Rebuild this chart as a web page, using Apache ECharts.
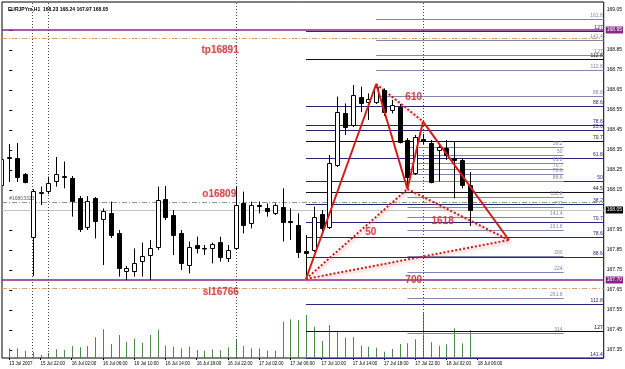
<!DOCTYPE html>
<html><head><meta charset="utf-8">
<script src="https://cdn.jsdelivr.net/npm/echarts@6/dist/echarts.min.js"></script>
<style>html,body{margin:0;padding:0;background:#fff}#c{width:625px;height:369px}</style>
</head><body><div id="c"></div>
<script>
const titleText = 'EURJPYm,H1  168.23 168.24 167.97 168.05';
// bar index of first row in ohlc (partially visible bar at the left edge)
const firstBarIndex = -1;
// [open, high, low, close]
const ohlc = [
[168.175,168.325,168.150,168.305],
[168.310,168.380,168.190,168.315],
[168.310,168.385,168.190,168.215],
[168.230,168.235,168.183,168.190],
[167.917,168.155,167.720,168.147],
[168.137,168.167,168.075,168.140],
[168.147,168.217,168.130,168.183],
[168.195,168.315,168.167,168.230],
[168.215,168.292,168.158,168.218],
[168.208,168.220,168.017,168.097],
[168.108,168.120,167.940,167.953],
[167.963,168.120,167.950,168.097],
[168.108,168.115,167.908,167.995],
[168.003,168.058,167.775,168.047],
[168.037,168.092,167.910,167.925],
[167.937,167.950,167.717,167.758],
[167.747,167.770,167.700,167.758],
[167.747,167.858,167.717,167.787],
[167.797,167.887,167.717,167.820],
[167.825,167.900,167.700,167.858],
[167.867,168.167,167.850,168.100],
[168.103,168.170,168.000,168.017],
[168.025,168.050,167.825,167.925],
[167.937,167.950,167.750,167.787],
[167.775,167.892,167.733,167.867],
[167.875,167.917,167.833,167.858],
[167.860,167.875,167.825,167.858],
[167.858,167.887,167.783,167.880],
[167.892,167.917,167.792,167.817],
[167.808,167.875,167.790,167.850],
[167.858,168.167,167.850,168.075],
[168.083,168.142,167.933,167.975],
[167.983,168.092,167.958,168.075],
[168.075,168.092,168.033,168.072],
[168.058,168.083,168.017,168.047],
[168.037,168.083,168.025,168.075],
[168.067,168.158,167.892,167.992],
[167.995,168.058,167.900,167.990],
[167.975,168.033,167.810,167.842],
[167.847,167.925,167.710,167.837],
[167.850,168.067,167.840,168.017],
[168.028,168.050,167.940,167.958],
[167.967,168.325,167.955,168.283],
[168.275,168.617,168.265,168.542],
[168.533,168.583,168.425,168.467],
[168.475,168.675,168.465,168.625],
[168.613,168.667,168.540,168.583],
[168.592,168.633,168.500,168.603],
[168.592,168.680,168.580,168.667],
[168.650,168.658,168.520,168.542],
[168.550,168.600,168.533,168.575],
[168.567,168.580,168.383,168.392],
[168.400,168.410,168.155,168.217],
[168.233,168.425,168.225,168.417],
[168.405,168.430,168.380,168.395],
[168.383,168.400,168.183,168.192],
[168.350,168.375,168.192,168.367],
[168.358,168.400,168.300,168.325],
[168.310,168.395,168.108,168.300],
[168.300,168.308,168.158,168.175],
[168.175,168.240,167.970,168.050]
];
// tick volume, bars 0..59
const volumes = [97,97,73,60,30,50,87,80,120,107,120,207,287,140,230,163,193,153,230,280,
123,113,97,113,80,73,87,80,107,180,120,97,97,73,73,363,387,380,430,313,
170,330,273,203,207,123,113,103,63,90,140,147,187,460,157,123,137,297,147,280];

const dateTickIdx = [0,4,8,12,16,20,24,28,32,36,40,44,48,52,56,60];
const dateTickLabels = ['13 Jul 2007','15 Jul 22:00','16 Jul 02:00','16 Jul 06:00','16 Jul 10:00','16 Jul 14:00',
'16 Jul 18:00','16 Jul 22:00','17 Jul 02:00','17 Jul 06:00','17 Jul 10:00','17 Jul 14:00','17 Jul 18:00',
'17 Jul 22:00','18 Jul 02:00','18 Jul 06:00'];
const priceTicks = [169.05,168.95,168.85,168.75,168.65,168.55,168.45,168.35,168.25,168.15,168.05,167.95,167.85,167.75,167.65,167.55,167.45,167.35];

// harmonic pattern points X A B C D
const patternIdx = [38,47,51,53,64];
const patternPrice = [167.705,168.680,168.155,168.492,167.900];

// horizontal levels
const purpleLevels = [168.95,167.70];
const purpleLabels = ['168.95','167.70'];
const tpPrice = 168.91, slPrice = 167.66, openPrice = 168.09, bidPrice = 168.05;
const bidLabel = '168.05';
const separatorIdx = [3,5,29.1,53];

// fibonacci lines starting at X, to the right edge
const fibXLevels = ['127','112.8','88.6','78.6','23.6','70.7','61.8','44.5','50','38.2','70.7','78.6','88.6','112.8','127','141.4'];
const fibXPrices = [168.943,168.805,168.569,168.472,168.45,168.395,168.308,168.14,168.193,168.078,167.991,167.914,167.816,167.58,167.442,167.31];
// fibonacci lines starting at A
const fibALevels = ['88.6','112.8','127','141.4','161.8'];
const fibAPrices = [168.620,168.747,168.822,168.897,169.004];
// fibonacci expansion starting at B, ending mid-chart
const fibBEnd = 71;
const fibBLevels = ['38.2','50','61.8','70.7','78.6','88.6','112.8','127','141.4','161.8','200','224','261.8','314'];
const fibBPrices = [168.363,168.323,168.284,168.254,168.227,168.193,168.112,168.064,168.016,167.947,167.818,167.738,167.611,167.435];

// text annotations [barIndex, price, text]
const redNotes = [[27.0,168.85,'tp16891'],[26.9,168.13,'o16809'],[27.1,167.64,'sl16766'],
[51.8,168.615,'610'],[46.3,167.94,'50'],[55.5,167.995,'1618'],[51.8,167.70,'700']];
const orderNote = [[1.6,168.105,'#16803323']];

const X_MIN = -0.9315, X_MAX = 76.14, Y_MIN = 167.31, Y_MAX = 169.09;

const candleData = ohlc.map((r,k)=>[firstBarIndex+k, r[0], r[1], r[2], r[3]]);
const volData = volumes.map((v,k)=>[k, v]);

const chart = echarts.init(document.getElementById('c'), null, {renderer:'canvas'});

function hLine(x0,x1,p,color,label,lw){
  return [{coord:[x0,p], lineStyle:{color:color,width:lw||1,type:'solid'},
           label:{show:!!label,formatter:label||'',position:'insideEndTop',fontSize:5,color:color,distance:1,fontFamily:'Arial'}},
          {coord:[x1,p]}];
}
const fibLines = [];
fibXPrices.forEach((p,k)=>{
  const black = [1,5,7,14].includes(k);
  fibLines.push(hLine(patternIdx[0],X_MAX,p,black?'#111':'#26267a',fibXLevels[k]));
});
fibAPrices.forEach((p,k)=>fibLines.push(hLine(patternIdx[1],X_MAX,p,'#8484ad',fibALevels[k])));
fibBPrices.forEach((p,k)=>fibLines.push(hLine(patternIdx[2],fibBEnd,p,'#8484ad',fibBLevels[k])));

const pt = k=>[patternIdx[k],patternPrice[k]];
const dotted = [[0,2],[2,4],[0,4],[1,3]].map(([a,b])=>[{coord:pt(a)},{coord:pt(b)}]);

const option = {
  animation:false,
  backgroundColor:'#fff',
  title:{text:titleText,left:3,top:2,textStyle:{fontSize:5,fontWeight:'bold',color:'#000',fontFamily:'Arial'}},
  grid:{left:2,right:19,top:2,bottom:11,show:true,borderColor:'#000',borderWidth:1,backgroundColor:'transparent'},
  xAxis:{type:'value',min:X_MIN,max:X_MAX,
    axisLine:{show:false},splitLine:{show:false},
    axisTick:{show:true,customValues:dateTickIdx,length:2,lineStyle:{color:'#000'}},
    axisLabel:{customValues:dateTickIdx,fontSize:4.5,color:'#000',align:'left',margin:3,fontFamily:'Arial',
      formatter:v=>{const k=dateTickIdx.indexOf(Math.round(v));return k>=0?dateTickLabels[k]:'';}}},
  yAxis:[{type:'value',position:'right',min:Y_MIN,max:Y_MAX,scale:true,
    axisLine:{show:false},splitLine:{show:false},
    axisTick:{show:true,customValues:priceTicks,length:3,lineStyle:{color:'#000'}},
    axisLabel:{customValues:priceTicks,fontSize:5,color:'#000',margin:3,fontFamily:'Arial',formatter:v=>v.toFixed(2)}},
    {type:'value',min:0,max:3560,show:false}],
  series:[
    {type:'custom',name:'vol',yAxisIndex:1,data:volData,clip:true,z:1,
     renderItem:(params,api)=>{
       const a=api.coord([api.value(0),0]), b=api.coord([api.value(0),api.value(1)]);
       const x=Math.round(a[0])+0.5;
       return {type:'line',shape:{x1:x,y1:a[1],x2:x,y2:b[1]},style:{stroke:'#4c8a4c',lineWidth:1}};
     }},
    {type:'line',name:'levels',data:[],z:2,
     markLine:{silent:true,symbol:['none','none'],animation:false,
       data:[
        {yAxis:bidPrice,lineStyle:{color:'#c4c4c4',width:1,type:'solid'},
         label:{show:true,position:'end',formatter:bidLabel,backgroundColor:'#000',color:'#fff',fontSize:5,padding:[1,1],distance:2,fontFamily:'Arial'}},
        {yAxis:openPrice,lineStyle:{color:'#7ea27e',width:1,type:[5,2,1,2]},label:{show:false}},
        {yAxis:tpPrice,lineStyle:{color:'#e0a070',width:1,type:[5,2,1,2]},label:{show:false}},
        {yAxis:slPrice,lineStyle:{color:'#e0a070',width:1,type:[5,2,1,2]},label:{show:false}},
        ...separatorIdx.map(v=>({xAxis:v,lineStyle:{color:'#444',width:1,type:[1,2]},label:{show:false}})),
        ...fibLines,
        ...purpleLevels.map((p,k)=>({yAxis:p,lineStyle:{color:'#8a248a',width:1.5,type:'solid'},
          label:{show:true,position:'end',formatter:purpleLabels[k],backgroundColor:'#8a248a',color:'#fff',fontSize:5,padding:[1,1],distance:2,fontFamily:'Arial'}}))
       ]}},
    {type:'custom',name:'candles',data:candleData,clip:true,z:5,
     renderItem:(params,api)=>{
       const i=api.value(0),o=api.value(1),h=api.value(2),l=api.value(3),c=api.value(4);
       const pO=api.coord([i,o]),pC=api.coord([i,c]),pH=api.coord([i,h]),pL=api.coord([i,l]);
       const x=Math.round(pO[0])+0.5;
       const top=Math.round(Math.min(pO[1],pC[1]))+0.5, bot=Math.round(Math.max(pO[1],pC[1]))+0.5;
       const up=c>=o;
       return {type:'group',children:[
         {type:'line',shape:{x1:x,y1:pH[1],x2:x,y2:pL[1]},style:{stroke:'#000',lineWidth:1}},
         {type:'rect',shape:{x:x-2,y:top,width:4,height:Math.max(bot-top,0.5)},style:{fill:up?'#fff':'#000',stroke:'#000',lineWidth:1}}
       ]};
     }},
    {type:'line',name:'pattern',z:8,data:patternIdx.map((v,k)=>[v,patternPrice[k]]),symbol:'none',
     lineStyle:{color:'#d41c1c',width:2},
     markLine:{silent:true,symbol:['none','none'],animation:false,
       lineStyle:{color:'#cc1a1a',width:2,type:[2,2],shadowBlur:3,shadowColor:'rgba(210,120,120,0.7)',shadowOffsetX:1,shadowOffsetY:2},
       label:{show:false},data:dotted}},
    {type:'scatter',name:'notes',z:10,symbolSize:0,data:redNotes,
     label:{show:true,position:'inside',formatter:p=>p.data[2],color:'#c8282d',fontSize:10,fontWeight:'bold',fontFamily:'Arial',
       textShadowColor:'rgba(200,120,120,0.5)',textShadowBlur:2}},
    {type:'scatter',name:'order',z:10,symbolSize:0,data:orderNote,
     label:{show:true,position:'inside',formatter:p=>p.data[2],color:'#333',fontSize:5,fontFamily:'Arial'}}
  ]
};
chart.setOption(option);
</script></body></html>
